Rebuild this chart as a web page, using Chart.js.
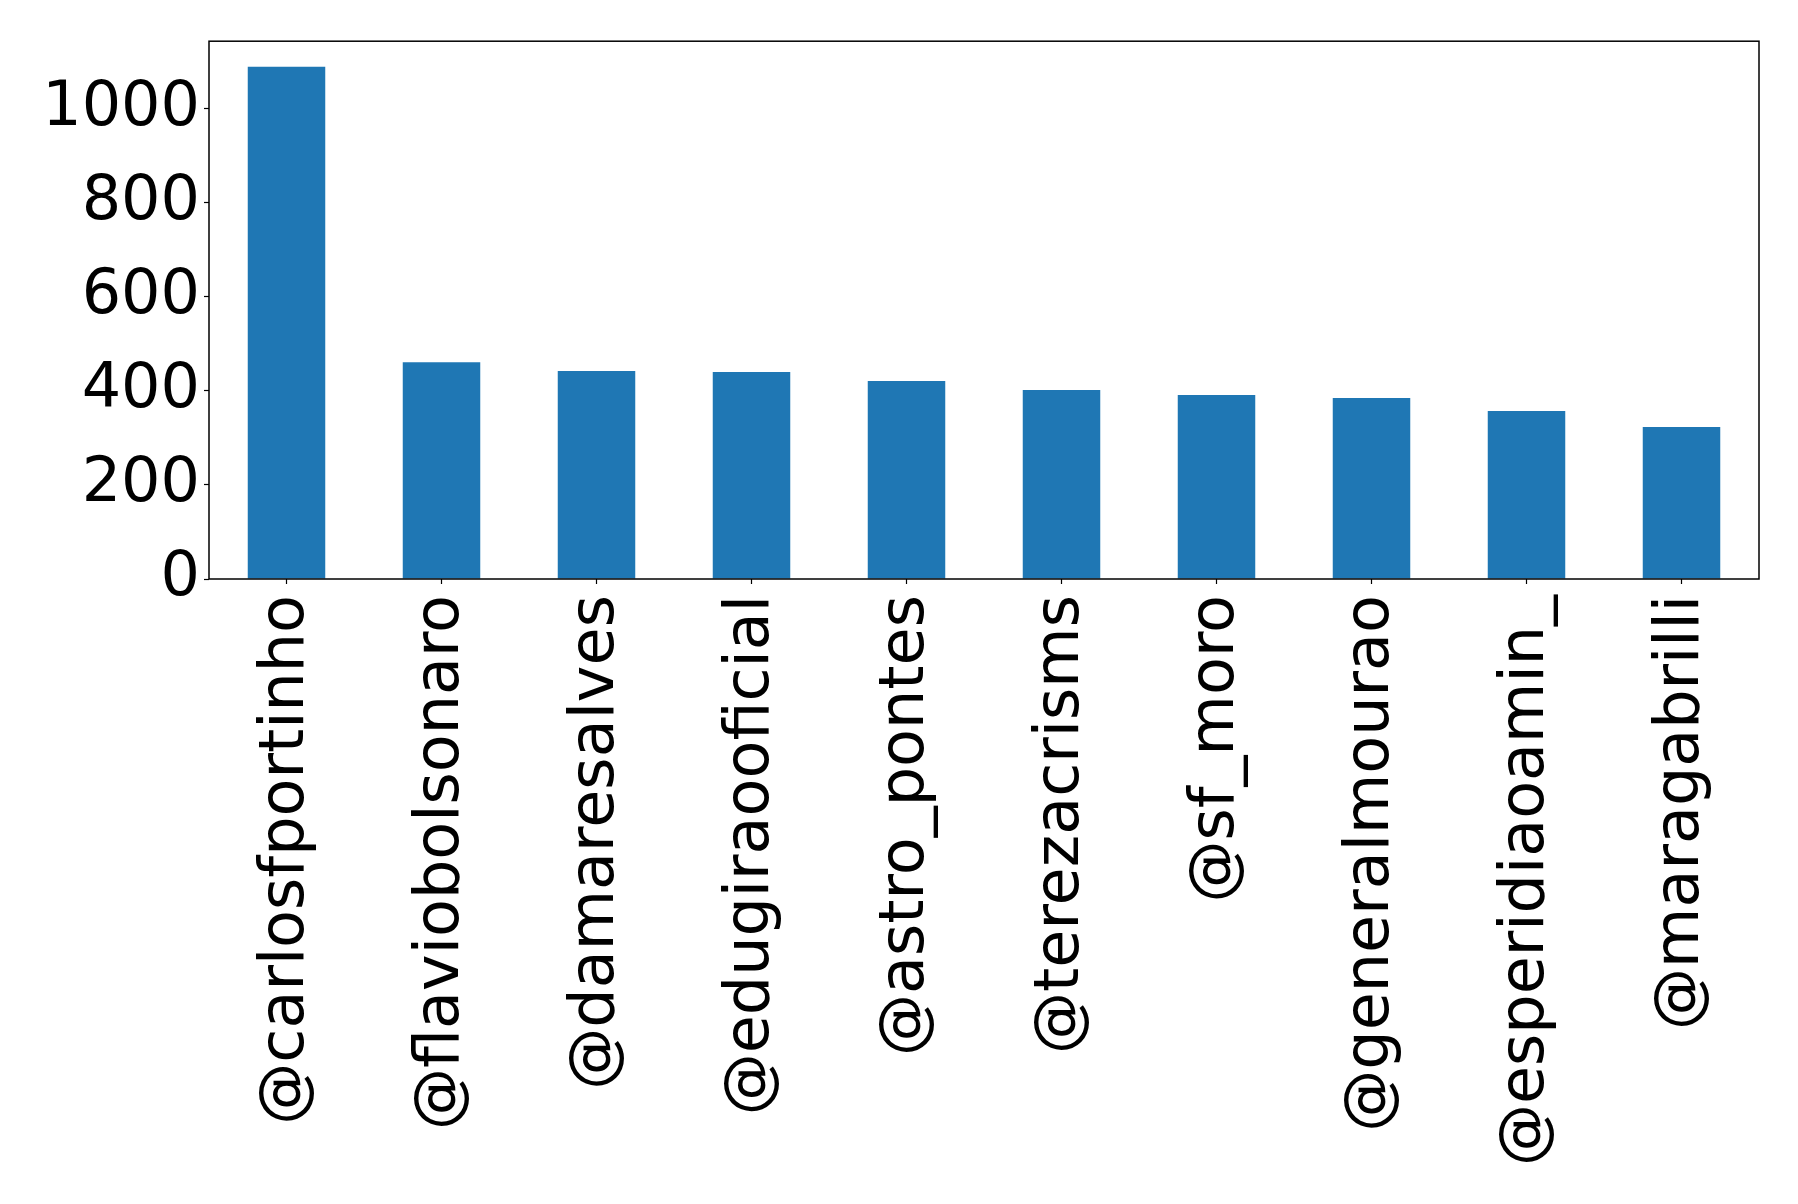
<!DOCTYPE html>
<html>
<head>
<meta charset="utf-8">
<script src="https://cdn.jsdelivr.net/npm/chart.js@4/dist/chart.umd.min.js"></script>
<style>
  html, body { margin: 0; padding: 0; background: #fff; }
  #wrap { width: 1798px; height: 1204px; }
</style>
</head>
<body>
<div id="wrap"><canvas id="myChart" width="1798" height="1204"></canvas></div>
<script>
const users = ["@carlosfportinho", "@flaviobolsonaro", "@damaresalves", "@edugiraooficial", "@astro_pontes",
  "@terezacrisms", "@sf_moro", "@generalmourao", "@esperidiaoamin_", "@maragabrilli"]
const mentions = [1089, 461, 442, 440, 421, 402, 391, 385, 357, 323]
const yTicks = [0, 200, 400, 600, 800, 1000]

// box around the plot area, like matplotlib's spines
const frame = {
  id: "frame",
  afterDatasetsDraw(chart) {
    const a = chart.chartArea
    const ctx = chart.ctx
    ctx.save()
    ctx.strokeStyle = "#000"
    ctx.lineWidth = 1.5
    ctx.strokeRect(a.left, a.top, a.right - a.left, a.bottom - a.top)
    ctx.restore()
  }
}

const font = { family: "DejaVu Sans", size: 62 }

const ctx = document.getElementById("myChart").getContext("2d")
new Chart(ctx, {
  type: "bar",
  data: {
    labels: users,
    datasets: [{
      data: mentions,
      backgroundColor: "#1f77b4",
      categoryPercentage: 1,
      barPercentage: 0.5,
    }]
  },
  options: {
    responsive: false,
    animation: false,
    layout: { padding: { top: 40, right: 39, left: 0, bottom: 0 } },
    plugins: { legend: { display: false }, tooltip: { enabled: false } },
    scales: {
      x: {
        offset: true,
        grid: { drawOnChartArea: false, offset: false, color: "#000", tickLength: 5, tickWidth: 1.2 },
        border: { display: false },
        ticks: { color: "#000", font: font, minRotation: 90, maxRotation: 90, autoSkip: false, padding: 11 },
        afterFit(scale) { scale.height = 625 }
      },
      y: {
        min: 0,
        max: Math.max(...mentions) * 1.05,
        grid: { drawOnChartArea: false, color: "#000", tickLength: 5, tickWidth: 1.2 },
        border: { display: false },
        ticks: { color: "#000", font: font, padding: 4, callback: v => String(v) },
        afterBuildTicks(scale) { scale.ticks = yTicks.map(v => ({ value: v })) },
        afterFit(scale) { scale.width = 209 }
      }
    }
  },
  plugins: [frame]
})
</script>
</body>
</html>
